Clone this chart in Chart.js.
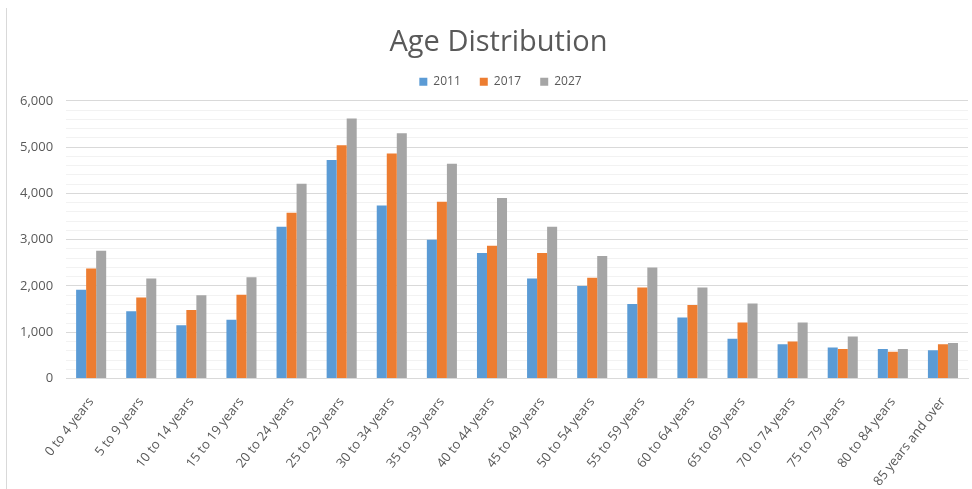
<!DOCTYPE html>
<html>
<head>
<meta charset="utf-8">
<script src="https://cdn.jsdelivr.net/npm/chart.js@4/dist/chart.umd.min.js"></script>
<style>
html,body{margin:0;padding:0;background:#fff;}
#wrap{position:relative;width:972px;height:489px;}
#frame{position:absolute;left:6px;top:8px;width:0;height:481px;border-left:1px solid #d9d9d9;}
canvas{position:absolute;left:0;top:0;}
</style>
</head>
<body>
<div id="wrap"><div id="frame"></div><canvas id="c" width="972" height="489"></canvas></div>
<script>
const categories = ["0 to 4 years","5 to 9 years","10 to 14 years","15 to 19 years","20 to 24 years","25 to 29 years","30 to 34 years","35 to 39 years","40 to 44 years","45 to 49 years","50 to 54 years","55 to 59 years","60 to 64 years","65 to 69 years","70 to 74 years","75 to 79 years","80 to 84 years","85 years and over"];
const values2011 = [1920,1455,1150,1270,3280,4720,3740,3000,2710,2160,2000,1610,1320,860,740,670,640,610];
const values2017 = [2380,1750,1480,1810,3580,5040,4860,3820,2870,2710,2180,1970,1590,1210,800,640,580,740];
const values2027 = [2760,2160,1800,2190,4210,5620,5300,4640,3900,3280,2650,2400,1970,1620,1210,910,640,770];
const seriesNames = ["2011","2017","2027"];
const colors = ["#5b9bd5","#ed7d31","#a5a5a5"];

// Small offset of title/legend (reference centres them slightly right of the canvas centre)
const headerShift = {
  id: 'headerShift',
  afterLayout(chart) {
    const t = chart.titleBlock, l = chart.legend;
    if (t) { t.left += 11; t.right += 11; }
    if (l) { l.left += 13; l.right += 13; l.top -= 3; l.bottom -= 3; }
  }
};

new Chart(document.getElementById('c'), {
  type: 'bar',
  data: {
    labels: categories,
    datasets: [values2011, values2017, values2027].map((d,i)=>({
      label: seriesNames[i], data: d, backgroundColor: colors[i], borderWidth: 0,
      categoryPercentage: 0.6, barPercentage: 1.0
    }))
  },
  plugins: [headerShift],
  options: {
    responsive: false, animation: false,
    layout: { padding: { top: 25, right: 4, left: 7, bottom: 0 } },
    plugins: {
      title: { display: true, text: 'Age Distribution', color: '#595959',
        font: { family: "'Open Sans', sans-serif", size: 29, weight: 'normal' },
        padding: { top: 0, bottom: 0 } },
      legend: { labels: { boxWidth: 8, boxHeight: 8, color: '#595959',
        font: { family: "'Open Sans', sans-serif", size: 12 }, padding: 19 } },
      tooltip: { enabled: false }
    },
    scales: {
      x: {
        afterFit: s => { s.height -= 8; },
        grid: { display: false },
        border: { color: '#d9d9d9' },
        ticks: { color: '#595959', maxRotation: 52, minRotation: 52, autoSkip: false, padding: 8,
          font: { family: "'Open Sans', sans-serif", size: 13 } }
      },
      y: {
        min: 0, max: 6000,
        border: { display: false },
        grid: { color: ctx => (ctx.tick && ctx.tick.value % 1000 === 0) ? '#d9d9d9' : '#f2f2f2', drawTicks: false },
        ticks: { stepSize: 200, autoSkip: false, padding: 13, color: '#595959',
          font: { family: "'Open Sans', sans-serif", size: 13 },
          callback: v => v % 1000 === 0 ? v.toLocaleString('en-US') : '' }
      }
    }
  }
});
</script>
</body>
</html>
